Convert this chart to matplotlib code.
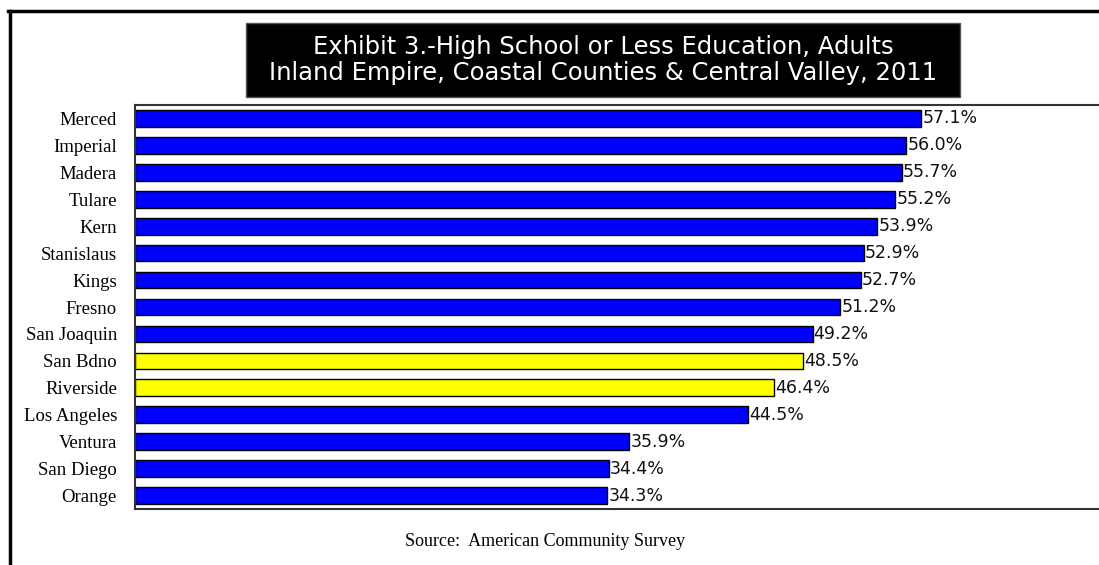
import matplotlib
matplotlib.use("Agg")
import matplotlib.pyplot as plt
from matplotlib.patches import Rectangle
from matplotlib.lines import Line2D

# Data read from the exhibit
counties = ["Merced", "Imperial", "Madera", "Tulare", "Kern", "Stanislaus", "Kings",
            "Fresno", "San Joaquin", "San Bdno", "Riverside", "Los Angeles",
            "Ventura", "San Diego", "Orange"]
pct_hs_or_less = [57.1, 56.0, 55.7, 55.2, 53.9, 52.9, 52.7, 51.2, 49.2, 48.5,
                  46.4, 44.5, 35.9, 34.4, 34.3]
highlighted = ["San Bdno", "Riverside"]

title_lines = ["Exhibit 3.-High School or Less Education, Adults",
               "Inland Empire, Coastal Counties & Central Valley, 2011"]
source_note = "Source:  American Community Survey"

W, H = 1099, 565
fig = plt.figure(figsize=(W / 100, H / 100), dpi=100)

# Outer frame (only left and top edges fall inside the picture)
fig.add_artist(Line2D([9.5 / W, 9.5 / W], [0, 1 - 11 / H], transform=fig.transFigure,
                      color="black", lw=2.5))
fig.add_artist(Line2D([8 / W, 1], [1 - 11 / H, 1 - 11 / H], transform=fig.transFigure,
                      color="black", lw=2.5))

# Title box
bx0, bx1, by0, by1 = 246, 960, 23, 97
fig.add_artist(Rectangle((bx0 / W, 1 - by1 / H), (bx1 - bx0) / W, (by1 - by0) / H,
                         transform=fig.transFigure, facecolor="black", edgecolor="#555555", lw=1))
for i, line in enumerate(title_lines):
    fig.text((bx0 + bx1) / 2 / W, 1 - (47 + 26 * i) / H, line, color="white",
             ha="center", va="center", fontsize=17.5, family="DejaVu Sans")

ax = fig.add_axes([135 / W, 1 - 509 / H, 1 - 135 / W, (509 - 105) / H])
colors = ["#FFFF00" if c in highlighted else "#0000FF" for c in counties]
ypos = list(range(len(counties)))
ax.barh(ypos, pct_hs_or_less, height=0.62, color=colors, edgecolor="black", lw=1)
for y, v in zip(ypos, pct_hs_or_less):
    ax.text(v + 0.08, y, f"{v:.1f}%", va="center", ha="left", fontsize=12.5,
            family="DejaVu Sans", color="#111111")

ax.set_xlim(0, 70)
ax.set_ylim(len(counties) - 0.5, -0.5)
ax.set_yticks(ypos)
ax.set_yticklabels(counties, family="Liberation Serif", fontsize=13.5)
ax.tick_params(axis="y", length=0, pad=13)
ax.set_xticks([])
ax.spines["right"].set_visible(False)
for s in ["top", "bottom", "left"]:
    ax.spines[s].set_color("#333333")
    ax.spines[s].set_linewidth(1.5)

fig.text(545 / W, 1 - 541 / H, source_note, ha="center", va="center",
         fontsize=13, family="Liberation Serif")

fig.savefig("out.png", dpi=100)
